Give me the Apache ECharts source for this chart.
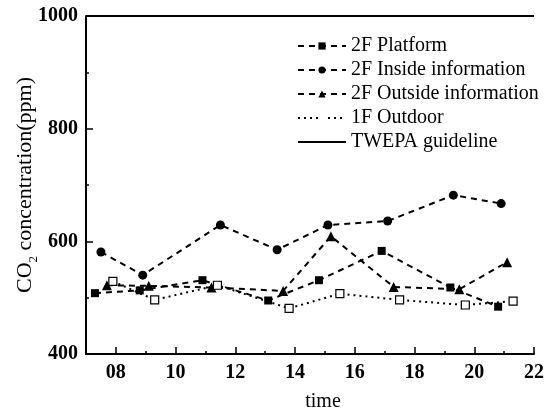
<!DOCTYPE html>
<html>
<head>
<meta charset="utf-8">
<style>
  html, body { margin: 0; padding: 0; background: #fff; }
  #chart { width: 547px; height: 416px; }
</style>
<script src="https://cdn.jsdelivr.net/npm/echarts@6/dist/echarts.min.js"></script>
</head>
<body>
<div id="chart"></div>
<script>
// Measurement times (hour of day) and CO2 readings (ppm) for each location
const platformTime = [7.3, 8.8, 10.9, 13.1, 14.8, 16.9, 19.2, 20.8];
const platformCO2  = [508, 513, 531, 495, 531, 583, 518, 484];

const insideTime = [7.5, 8.9, 11.5, 13.4, 15.1, 17.1, 19.3, 20.9];
const insideCO2  = [581, 540, 629, 585, 629, 636, 682, 667];

const outsideTime = [7.7, 9.1, 11.2, 13.6, 15.2, 17.3, 19.5, 21.1];
const outsideCO2  = [522, 521, 518, 512, 609, 519, 515, 563];

const outdoorTime = [7.9, 9.3, 11.4, 13.8, 15.5, 17.5, 19.7, 21.3];
const outdoorCO2  = [529, 496, 522, 481, 507, 496, 487, 494];

// Indoor CO2 guideline level and the span it is drawn over
const guidelineLevel = 1000;
const guidelineSpan  = [7, 22];

// Axis ranges and labelled tick positions
const xMin = 7, xMax = 22;
const xLabelTicks = [8, 10, 12, 14, 16, 18, 20, 22];
const yMin = 400, yMax = 1000, yStep = 200;

const seriesNames = ['2F Platform', '2F Inside information', '2F Outside information', '1F Outdoor', 'TWEPA guideline'];

const pair = (xs, ys) => xs.map((x, i) => [x, ys[i]]);

const FONT = '"Liberation Serif", "DejaVu Serif", serif';
const INK = '#000';

const chart = echarts.init(document.getElementById('chart'), null, { renderer: 'canvas' });

const dashed = { color: INK, width: 2, type: [6, 5] };

chart.setOption({
  animation: false,
  backgroundColor: '#fff',
  grid: { left: 86, right: 13, top: 16, bottom: 62, containLabel: false, outerBoundsMode: 'none' },
  legend: {
    orient: 'vertical',
    left: 292,
    top: 31,
    itemWidth: 48,
    itemHeight: 9,
    itemGap: 4,
    itemStyle: { borderWidth: 0 },
    textStyle: { fontFamily: FONT, fontSize: 20, color: INK },
    data: [
      seriesNames[0], seriesNames[1], seriesNames[2], seriesNames[3],
      { name: seriesNames[4], itemStyle: { opacity: 0 } }
    ]
  },
  xAxis: [
    {
      type: 'value',
      min: xMin,
      max: xMax,
      name: 'time',
      nameLocation: 'middle',
      nameGap: 38,
      nameTextStyle: { fontFamily: FONT, fontSize: 20, color: INK, padding: [0, 0, 0, 26] },
      axisLine: { show: true, lineStyle: { color: INK, width: 2 } },
      axisTick: { show: true, inside: true, length: 7, lineStyle: { color: INK, width: 1.5 }, customValues: xLabelTicks },
      axisLabel: {
        color: INK, fontFamily: FONT, fontSize: 20, fontWeight: 'bold', margin: 9,
        customValues: xLabelTicks,
        formatter: v => String(v).padStart(2, '0')
      },
      splitLine: { show: false }
    },
    {
      // hourly minor ticks along the time axis
      type: 'value',
      min: xMin,
      max: xMax,
      interval: 1,
      position: 'bottom',
      axisLine: { show: false },
      axisTick: { show: true, inside: true, length: 3, lineStyle: { color: INK, width: 1.5 } },
      axisLabel: { show: false },
      splitLine: { show: false }
    }
  ],
  yAxis: {
    type: 'value',
    min: yMin,
    max: yMax,
    interval: yStep,
    name: '{co|CO}{sub|2}{co| concentration(ppm)}',
    nameLocation: 'middle',
    nameGap: 50,
    nameMoveOverlap: false,
    nameTextStyle: {
      fontFamily: FONT, fontSize: 22, color: INK,
      rich: {
        co: { fontFamily: FONT, fontSize: 22, color: INK, lineHeight: 24, verticalAlign: 'bottom' },
        sub: { fontFamily: FONT, fontSize: 13, color: INK, lineHeight: 24, verticalAlign: 'bottom', padding: [0, 0, -4, 0] }
      }
    },
    axisLine: { show: true, lineStyle: { color: INK, width: 2 } },
    axisTick: { show: true, inside: true, length: 7, lineStyle: { color: INK, width: 1.5 } },
    minorTick: { show: true, splitNumber: 2, length: 3, lineStyle: { color: INK, width: 1.5 } },
    axisLabel: {
      color: INK, fontFamily: FONT, fontSize: 20, fontWeight: 'bold', margin: 8,
      formatter: v => String(v)
    },
    splitLine: { show: false }
  },
  series: [
    {
      name: seriesNames[0], type: 'line', xAxisIndex: 0,
      data: pair(platformTime, platformCO2),
      symbol: 'rect', symbolSize: 8,
      itemStyle: { color: INK },
      lineStyle: dashed
    },
    {
      name: seriesNames[1], type: 'line', xAxisIndex: 0,
      data: pair(insideTime, insideCO2),
      symbol: 'circle', symbolSize: 9,
      itemStyle: { color: INK },
      lineStyle: dashed
    },
    {
      name: seriesNames[2], type: 'line', xAxisIndex: 0,
      data: pair(outsideTime, outsideCO2),
      symbol: 'triangle', symbolSize: 10,
      itemStyle: { color: INK },
      lineStyle: dashed
    },
    {
      name: seriesNames[3], type: 'line', xAxisIndex: 0,
      data: pair(outdoorTime, outdoorCO2),
      symbol: 'rect', symbolSize: 8,
      itemStyle: { color: '#fff', borderColor: INK, borderWidth: 1.2 },
      lineStyle: { color: INK, width: 2, type: [2, 4] }
    },
    {
      name: seriesNames[4], type: 'line', xAxisIndex: 0,
      data: guidelineSpan.map(x => [x, guidelineLevel]),
      symbol: 'none', showSymbol: false,
      itemStyle: { color: INK },
      lineStyle: { color: INK, width: 2, type: 'solid' }
    }
  ]
});
</script>
</body>
</html>
